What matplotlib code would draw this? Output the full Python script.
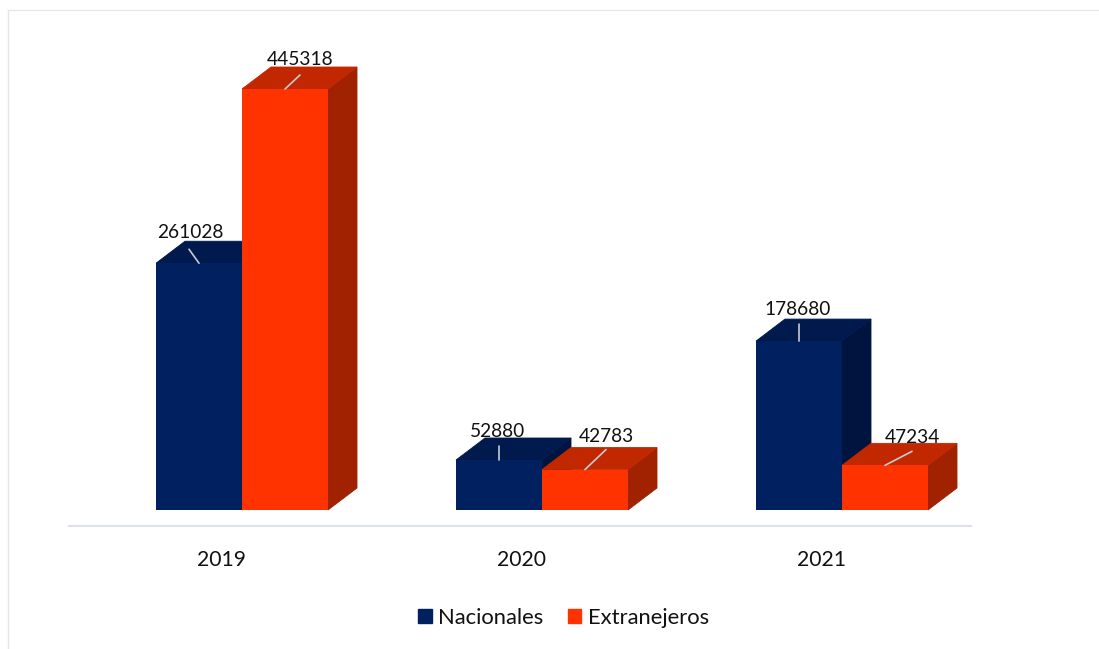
import matplotlib
matplotlib.use("Agg")
import matplotlib.pyplot as plt
from matplotlib.patches import Polygon, Patch
from matplotlib.lines import Line2D

years = ['2019', '2020', '2021']
nacionales = [261028, 52880, 178680]
extranjeros = [445318, 42783, 47234]

W, H = 1099, 649
plt.rcParams['font.family'] = ['Lato', 'DejaVu Sans']

fig = plt.figure(figsize=(W / 100, H / 100), dpi=100)
fig.patch.set_facecolor('white')

# axes box in pixels, x axis line sits at y=526
left, right, top, bottom = 69, 971, 30, 526
ax = fig.add_axes([left / W, 1 - bottom / H, (right - left) / W, (bottom - top) / H])

px_per_unit = 421 / 445318
x_unit = 300
first_tick = 221
ax.set_xlim((left - first_tick) / x_unit, (right - first_tick) / x_unit)
ax.set_ylim(-16 / px_per_unit, (510 - top) / px_per_unit)

bar_w = 86 / x_unit
shift = 21 / x_unit
depth_x = 29 / x_unit
depth_y = 22 / px_per_unit

navy = ('#002060', '#001A4E', '#001440')
orange = ('#FF3300', '#C22800', '#A02200')


def bar3d(x0, val, cols, z):
    x1 = x0 + bar_w
    ax.bar(x0, val, width=bar_w, align='edge', color=cols[0], zorder=z + 0.2)
    ax.add_patch(Polygon([(x0, val), (x1, val), (x1 + depth_x, val + depth_y), (x0 + depth_x, val + depth_y)],
                         closed=True, fc=cols[1], ec=cols[1], lw=0.6, zorder=z + 0.1))
    ax.add_patch(Polygon([(x1, 0), (x1 + depth_x, depth_y), (x1 + depth_x, val + depth_y), (x1, val)],
                         closed=True, fc=cols[2], ec=cols[2], lw=0.6, zorder=z))


# label offsets from the middle of the front top edge, in pixels
label_off = [(-9, 31), (15, 29), (-1, 29), (21, 33), (-1, 32), (27, 28)]
line_off = [(-10, 14), (15, 14), (0, 14), (21, 20), (0, 17), (27, 14)]

k = 0
for i in range(len(years)):
    xn = i + shift - bar_w
    xe = i + shift
    bar3d(xn, nacionales[i], navy, 2 + i)
    bar3d(xe, extranjeros[i], orange, 2.5 + i)
    for x0, val in ((xn, nacionales[i]), (xe, extranjeros[i])):
        xm = x0 + bar_w / 2
        lx, ly = line_off[k]
        tx, ty = label_off[k]
        ax.annotate('', xy=(xm, val), xytext=(lx * 0.72, ly * 0.72), textcoords='offset points',
                    arrowprops=dict(arrowstyle='-', color='#C4CBD4', lw=1.2, shrinkA=0, shrinkB=0), zorder=10)
        ax.annotate(str(val), xy=(xm, val), xytext=(tx * 0.72, ty * 0.72), textcoords='offset points',
                    ha='center', va='center', fontsize=13.8, color='#111111', zorder=11)
        k += 1

for s in ('top', 'right', 'left'):
    ax.spines[s].set_visible(False)
ax.spines['bottom'].set_color('#DDE1E8')
ax.spines['bottom'].set_linewidth(1.5)
ax.set_yticks([])
ax.set_xticks(range(len(years)))
ax.set_xticklabels(years, fontsize=15.2, color='#111111')
ax.tick_params(axis='x', length=0, pad=17.5)
ax.patch.set_alpha(0)

# outer chart frame, only top and left show in the crop
fig.add_artist(Line2D([8 / W, 8 / W], [0, 1 - 10 / H], color='#E3E6EB', lw=1))
fig.add_artist(Line2D([8 / W, 1], [1 - 10 / H, 1 - 10 / H], color='#E3E6EB', lw=1))

handles = [Patch(color=navy[0], label='Nacionales'), Patch(color=orange[0], label='Extranejeros')]
fig.legend(handles=handles, loc='center', bbox_to_anchor=(563.5 / W, 1 - 617.5 / H), ncol=2, frameon=False,
           fontsize=15.8, handlelength=0.63, handleheight=0.63, handletextpad=0.3, columnspacing=1.1,
           labelcolor='#111111')

fig.savefig('out.png', dpi=100)
